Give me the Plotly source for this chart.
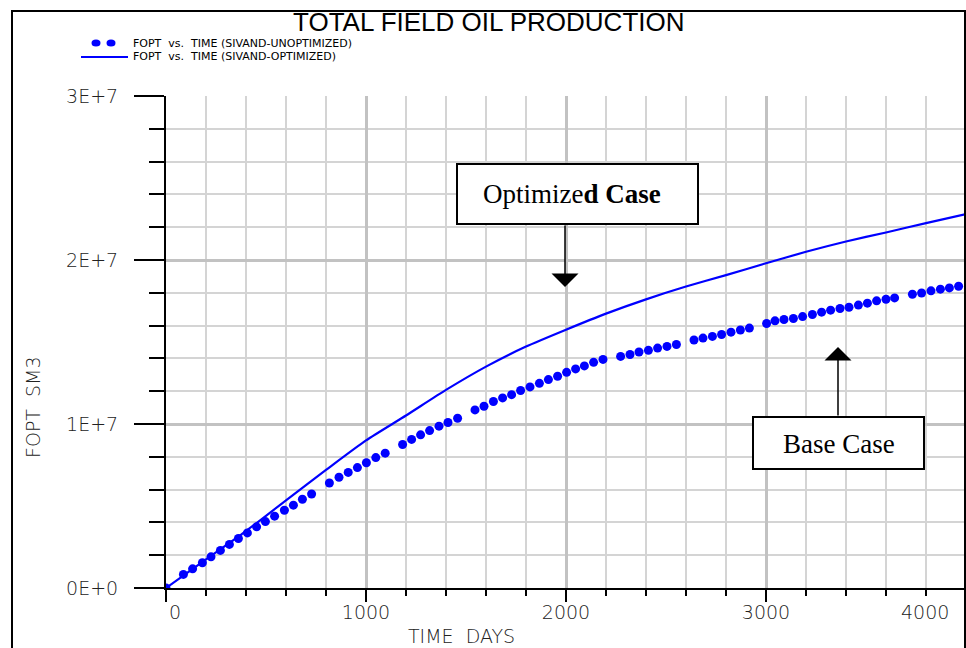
import numpy as np
import plotly.graph_objects as go

# ---- data -------------------------------------------------------------
# Optimized case: cumulative field oil production (million SM3) vs time (days)
time_opt = [0, 200, 400, 600, 800, 1000, 1200, 1400, 1600, 1800, 2000,
            2200, 2400, 2600, 2800, 3000, 3200, 3400, 3600, 3800, 4000]
fopt_opt = [0.0, 1.75, 3.47, 5.35, 7.20, 9.00, 10.52, 12.08, 13.50, 14.72, 15.75,
            16.73, 17.60, 18.38, 19.08, 19.80, 20.50, 21.13, 21.68, 22.25, 22.80]

# Base (unoptimized) case: report points (days, million SM3)
time_base = [0, 87, 133, 182, 225, 272, 317, 362, 407, 453, 497, 543, 592, 637,
             682, 728, 817, 865, 911, 957, 1002, 1049, 1096, 1183, 1228, 1273,
             1318, 1365, 1410, 1458, 1545, 1590, 1637, 1683, 1728, 1773, 1820,
             1867, 1912, 1958, 2003, 2048, 2092, 2138, 2185, 2273, 2320, 2365,
             2412, 2458, 2505, 2552, 2640, 2685, 2732, 2778, 2825, 2872, 2917,
             3003, 3045, 3090, 3137, 3183, 3232, 3278, 3323, 3370, 3415, 3462,
             3507, 3553, 3600, 3643, 3732, 3778, 3825, 3872, 3917, 3963]
fopt_base = [0.0, 0.83, 1.17, 1.54, 1.90, 2.29, 2.66, 3.02, 3.36, 3.73, 4.05,
             4.38, 4.74, 5.05, 5.41, 5.73, 6.40, 6.75, 7.05, 7.34, 7.64, 7.95,
             8.22, 8.75, 9.06, 9.34, 9.60, 9.87, 10.09, 10.35, 10.86, 11.08,
             11.37, 11.59, 11.79, 12.04, 12.26, 12.48, 12.71, 12.91, 13.15,
             13.36, 13.54, 13.76, 13.94, 14.12, 14.24, 14.39, 14.49, 14.63,
             14.73, 14.85, 15.12, 15.24, 15.34, 15.46, 15.60, 15.73, 15.85,
             16.13, 16.29, 16.37, 16.43, 16.55, 16.68, 16.82, 16.94, 17.04,
             17.12, 17.25, 17.37, 17.51, 17.61, 17.69, 17.91, 17.99, 18.12,
             18.22, 18.30, 18.40]

y_tickvals = [0, 1e7, 2e7, 3e7]
y_ticktext = ["0E+0", "1E+7", "2E+7", "3E+7"]
x_tickvals = [0, 1000, 2000, 3000, 4000]
x_ticktext = ["", "1000", "2000", "3000", ""]

legend_labels = ["FOPT  vs.  TIME (SIVAND-UNOPTIMIZED)",
                 "FOPT  vs.  TIME (SIVAND-OPTIMIZED)"]

# ---- layout geometry (pixels) ------------------------------------------
W, H = 966, 648
L, R, T, B = 166, 0, 96, 60
PW, PH = W - L - R, H - T - B


def px(x):
    return (x - L) / PW


def py(y):
    return (H - B - y) / PH


BLUE = "#0000ff"
TICKFONT = dict(family="DejaVu Sans", size=19, color="#222222", weight=200)

fig = go.Figure()
fig.add_trace(go.Scatter(
    x=time_opt, y=np.array(fopt_opt) * 1e6, mode="lines",
    line=dict(color=BLUE, width=2.2, shape="spline", smoothing=0.6),
    showlegend=False, hoverinfo="skip"))
fig.add_trace(go.Scatter(
    x=time_base, y=np.array(fopt_base) * 1e6, mode="markers",
    marker=dict(color=BLUE, size=9, symbol="circle", line=dict(width=0)),
    showlegend=False, hoverinfo="skip"))

fig.update_layout(
    width=W, height=H, margin=dict(l=L, r=R, t=T, b=B),
    paper_bgcolor="white", plot_bgcolor="white",
    font=dict(family="Liberation Sans", color="black"),
    showlegend=False,
    xaxis=dict(
        range=[0, 4000], tickmode="array", tickvals=x_tickvals, ticktext=x_ticktext,
        showline=True, linecolor="black", linewidth=2, zeroline=False,
        ticks="outside", ticklen=12, tickwidth=2, tickcolor="black",
        showgrid=True, gridcolor="#c2c2c2", gridwidth=2.5,
        tickfont=TICKFONT, ticklabelstandoff=-6,
        minor=dict(tickmode="linear", tick0=0, dtick=200, ticks="outside",
                   ticklen=6, tickwidth=1.5, tickcolor="black",
                   showgrid=True, gridcolor="#d4d4d4", gridwidth=1.5),
    ),
    yaxis=dict(
        range=[0, 3e7], tickmode="array", tickvals=y_tickvals, ticktext=y_ticktext,
        showline=True, linecolor="black", linewidth=2, zeroline=False,
        ticks="outside", ticklen=30, tickwidth=2, tickcolor="black",
        showgrid=True, gridcolor="#c2c2c2", gridwidth=2.5,
        tickfont=TICKFONT, ticklabelstandoff=12,
        minor=dict(tickmode="linear", tick0=0, dtick=2e6, ticks="outside",
                   ticklen=15, tickwidth=1.5, tickcolor="black",
                   showgrid=True, gridcolor="#d4d4d4", gridwidth=1.5),
    ),
)

shapes = []
annotations = []


def label(text, x, y, font, **kw):
    d = dict(text=text, xref="paper", yref="paper", x=px(x), y=py(y),
             xanchor="center", yanchor="middle", showarrow=False, font=font)
    d.update(kw)
    annotations.append(d)


# outer frame
shapes.append(dict(type="rect", xref="paper", yref="paper",
                   x0=px(12), x1=px(965), y0=py(700), y1=py(11),
                   line=dict(color="black", width=2), layer="above"))

# title
label("TOTAL FIELD OIL PRODUCTION", 489, 22,
      dict(family="Liberation Sans", size=26, color="black"))

# legend
for cx in (96, 111):
    shapes.append(dict(type="circle", xref="paper", yref="paper",
                       x0=px(cx - 4.5), x1=px(cx + 4.5), y0=py(43 + 3.5), y1=py(43 - 3.5),
                       fillcolor=BLUE, line=dict(width=0)))
shapes.append(dict(type="line", xref="paper", yref="paper",
                   x0=px(81), x1=px(128), y0=py(57), y1=py(57),
                   line=dict(color=BLUE, width=2)))
for text, yy in zip(legend_labels, (43, 57)):
    label(text, 131, yy, dict(family="DejaVu Sans", size=11, color="black"),
          xanchor="left")

# axis titles and end tick labels
label("FOPT\u00a0\u00a0SM3", 33, 407, TICKFONT, textangle=-90)
label("TIME\u00a0\u00a0DAYS", 461, 636, TICKFONT)
label("0", 175, 612, TICKFONT)
label("4000", 925, 612, TICKFONT)

# callout boxes
SERIF = dict(family="Liberation Serif", size=27, color="black")
shapes.append(dict(type="rect", xref="paper", yref="paper",
                   x0=px(457), x1=px(698), y0=py(224), y1=py(164),
                   fillcolor="white", line=dict(color="black", width=2), layer="above"))
label("Optimize<b>d Case</b>", 572, 194, SERIF)
shapes.append(dict(type="rect", xref="paper", yref="paper",
                   x0=px(753), x1=px(924), y0=py(469), y1=py(417),
                   fillcolor="white", line=dict(color="black", width=2), layer="above"))
label("Base Case", 838.5, 444, SERIF)

# arrows from the boxes to the curves
annotations.append(dict(text="", xref="paper", yref="paper", x=px(565), y=py(287),
                        ax=0, ay=-(287 - 224), showarrow=True, arrowhead=1,
                        arrowwidth=1.5, arrowsize=3, arrowcolor="black"))
annotations.append(dict(text="", xref="paper", yref="paper", x=px(838), y=py(347),
                        ax=0, ay=(417 - 347), showarrow=True, arrowhead=1,
                        arrowwidth=1.5, arrowsize=3, arrowcolor="black"))

fig.update_layout(shapes=shapes, annotations=annotations)
fig.write_html("out.html", config=dict(displayModeBar=False))
